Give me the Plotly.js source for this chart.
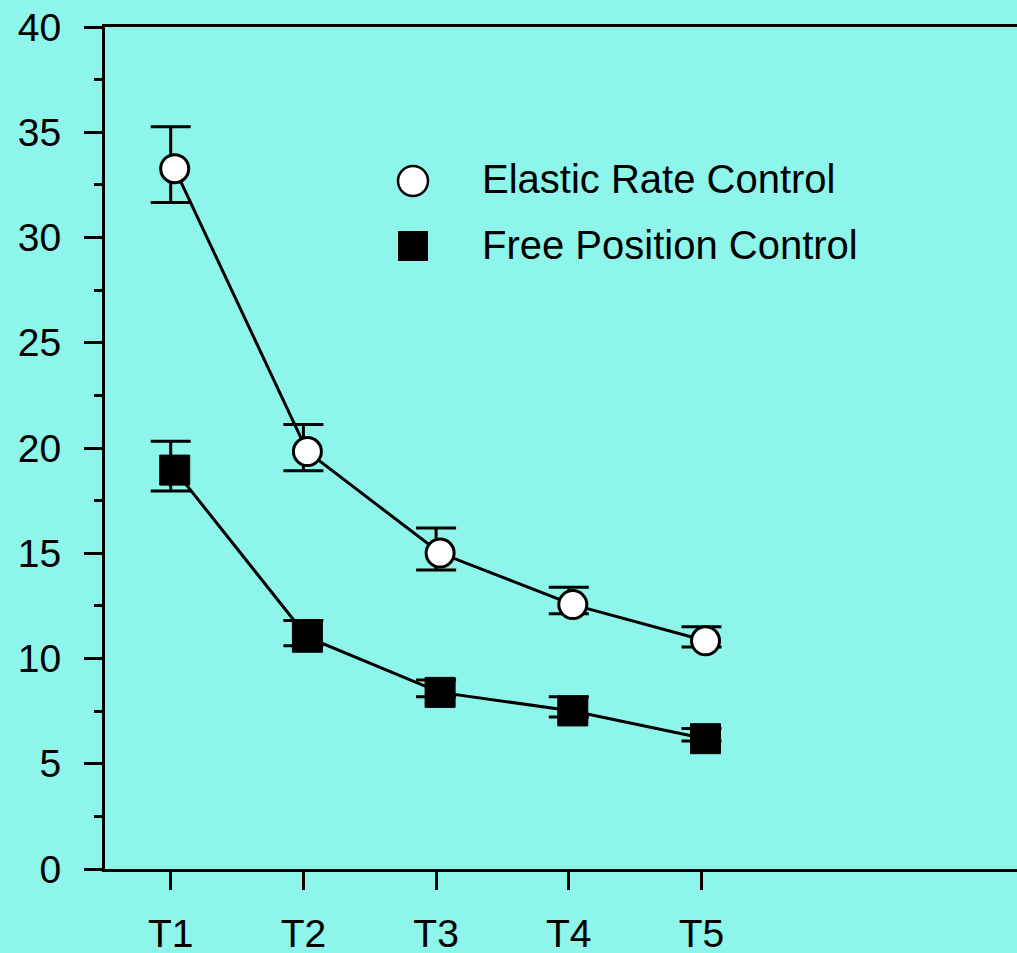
<!DOCTYPE html>
<html>
<head>
<meta charset="utf-8">
<script src="https://cdn.plot.ly/plotly-3.0.1.min.js"></script>
<style>html,body{margin:0;padding:0;background:#8DF5E9;}#chart{width:1017px;height:953px;}</style>
</head>
<body>
<div id="chart"></div>
<script>
// Data
var categories = ["T1", "T2", "T3", "T4", "T5"];
var catIndex = [1, 2, 3, 4, 5];
var elasticMean = [33.46, 20.02, 15.2, 12.75, 11.03];
var elasticErr = [1.8, 1.1, 1.0, 0.63, 0.48];
var freeMean = [19.14, 11.2, 8.58, 7.70, 6.38];
var freeErr = [1.18, 0.6, 0.4, 0.48, 0.3];
var seriesNames = ["Elastic Rate Control", "Free Position Control"];
var yTickVals = [0, 5, 10, 15, 20, 25, 30, 35, 40];

var BG = "#8DF5E9";
var FONT = "Liberation Sans, Arial, Helvetica, sans-serif";

var W = 1017, H = 953, ML = 105, MT = 27, MB = 84;
var plotW = W - ML, plotH = H - MT - MB;
var pxPerCat = 132.7;
var x0 = 1 - 65.7 / pxPerCat;
var xRange = [x0, x0 + plotW / pxPerCat];
var yRange = [0, 40];
// markers drawn slightly offset from error bars (as in reference)
var mdx = 4 / pxPerCat, mdy = 4 / (plotH / 40);
var x2Range = [xRange[0] - mdx, xRange[1] - mdx];
var y2Range = [yRange[0] + mdy, yRange[1] + mdy];

function errTrace(y, e) {
  return {
    x: catIndex, y: y, type: "scatter", mode: "markers",
    marker: {size: 1, color: "rgba(0,0,0,0)"},
    error_y: {type: "data", array: e, visible: true, color: "#000", thickness: 3, width: 20},
    xaxis: "x", yaxis: "y", showlegend: false, hoverinfo: "skip"
  };
}

var traces = [
  errTrace(elasticMean, elasticErr),
  errTrace(freeMean, freeErr),
  {
    x: catIndex, y: elasticMean, name: seriesNames[0], type: "scatter", mode: "lines+markers",
    line: {color: "#000", width: 3},
    marker: {symbol: "circle", size: 28, color: "#fff", line: {color: "#000", width: 3}},
    xaxis: "x2", yaxis: "y2", showlegend: false
  },
  {
    x: catIndex, y: freeMean, name: seriesNames[1], type: "scatter", mode: "lines+markers",
    line: {color: "#000", width: 3},
    marker: {symbol: "square", size: 30, color: "#000", line: {color: "#000", width: 1}},
    xaxis: "x2", yaxis: "y2", showlegend: false
  }
];

function px2paperX(px) { return (px - ML) / plotW; }
function px2paperY(py) { return (H - MB - py) / plotH; }

var layout = {
  width: W, height: H,
  margin: {l: ML, r: 0, t: MT, b: MB, pad: 0},
  paper_bgcolor: BG, plot_bgcolor: BG,
  font: {family: FONT, size: 39, color: "#000"},
  showlegend: false,
  xaxis: {
    range: xRange, tickmode: "array", tickvals: catIndex, ticktext: categories,
    showline: true, linecolor: "#000", linewidth: 3, mirror: true,
    ticks: "outside", ticklen: 18, tickwidth: 3, tickcolor: "#000",
    showgrid: false, zeroline: false, fixedrange: true,
    tickfont: {family: FONT, size: 39, color: "#000"}, ticklabelstandoff: 10
  },
  yaxis: {
    range: yRange, tickmode: "array", tickvals: yTickVals,
    showline: true, linecolor: "#000", linewidth: 3, mirror: false,
    ticks: "outside", ticklen: 18, tickwidth: 3, tickcolor: "#000",
    minor: {dtick: 2.5, ticks: "outside", ticklen: 8, tickwidth: 3, tickcolor: "#000", showgrid: false},
    showgrid: false, zeroline: false, fixedrange: true,
    tickfont: {family: FONT, size: 39, color: "#000"}, ticklabelstandoff: 15
  },
  xaxis2: {range: x2Range, overlaying: "x", visible: false, fixedrange: true},
  yaxis2: {range: y2Range, overlaying: "y", visible: false, fixedrange: true},
  shapes: [
    {type: "circle", xref: "paper", yref: "paper", xsizemode: "pixel", ysizemode: "pixel",
     xanchor: px2paperX(413), yanchor: px2paperY(181), x0: -15, x1: 15, y0: -15, y1: 15,
     fillcolor: "#fff", line: {color: "#000", width: 2.5}},
    {type: "rect", xref: "paper", yref: "paper", xsizemode: "pixel", ysizemode: "pixel",
     xanchor: px2paperX(413), yanchor: px2paperY(246), x0: -15, x1: 15, y0: -15, y1: 15,
     fillcolor: "#000", line: {color: "#000", width: 0}}
  ],
  annotations: [
    {xref: "paper", yref: "paper", x: px2paperX(480), y: px2paperY(179), xanchor: "left", yanchor: "middle",
     text: seriesNames[0], showarrow: false, font: {family: FONT, size: 40, color: "#000"}},
    {xref: "paper", yref: "paper", x: px2paperX(480), y: px2paperY(245), xanchor: "left", yanchor: "middle",
     text: seriesNames[1], showarrow: false, font: {family: FONT, size: 40, color: "#000"}}
  ]
};

Plotly.newPlot("chart", traces, layout, {displayModeBar: false, staticPlot: true});
</script>
</body>
</html>
